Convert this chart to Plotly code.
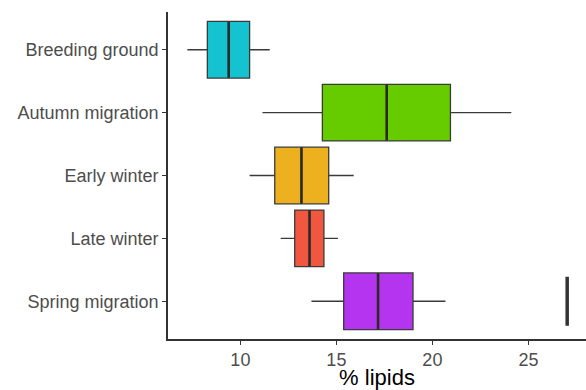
import plotly.graph_objects as go

categories = ["Breeding ground", "Autumn migration", "Early winter", "Late winter", "Spring migration"]
lower_whisker = [7.24, 11.15, 10.48, 12.10, 13.70]
q1_vals = [8.28, 14.27, 11.79, 12.83, 15.38]
median_vals = [9.39, 17.62, 13.18, 13.60, 17.17]
q3_vals = [10.48, 20.94, 14.60, 14.35, 18.99]
upper_whisker = [11.53, 24.11, 15.90, 15.08, 20.68]
outlier_cat = ["Spring migration"]
outlier_val = [27.02]
x_ticks = [10, 15, 20, 25]

fills = ["#14C3CF", "#66CC00", "#EDB120", "#F0573E", "#B534F0"]
FONT = "Liberation Sans, Arial, sans-serif"

fig = go.Figure()
for i, c in enumerate(categories):
    fig.add_trace(go.Box(
        y=[c], q1=[q1_vals[i]], median=[median_vals[i]], q3=[q3_vals[i]],
        lowerfence=[lower_whisker[i]], upperfence=[upper_whisker[i]],
        orientation="h", fillcolor=fills[i], width=0.9, whiskerwidth=0,
        line=dict(color="#3a3a3a", width=1.3), boxpoints=False,
        showlegend=False, hoverinfo="skip",
    ))

# thicker median lines (line-ns length is 1.4 x size)
fig.add_trace(go.Scatter(
    x=median_vals, y=categories, mode="markers",
    marker=dict(symbol="line-ns", size=40, line=dict(color="#2a2a2a", width=2.6)),
    showlegend=False, hoverinfo="skip",
))
# outlier
fig.add_trace(go.Scatter(
    x=outlier_val, y=outlier_cat, mode="markers",
    marker=dict(symbol="line-ns", size=35, line=dict(color="#333333", width=3.5)),
    showlegend=False, hoverinfo="skip",
))

fig.update_layout(
    width=586, height=390,
    margin=dict(l=168, r=0, t=12, b=51),
    paper_bgcolor="white", plot_bgcolor="white",
    boxmode="overlay",
    font=dict(family=FONT, size=18, color="#4D4D4D"),
)
fig.update_xaxes(
    range=[6.23, 28.0], tickvals=x_ticks, showgrid=False, zeroline=False,
    showline=True, linecolor="#333333", linewidth=1.6, automargin=False,
    ticks="outside", ticklen=4, tickwidth=1.3, tickcolor="#333333",
    tickfont=dict(size=18, color="#4D4D4D", family=FONT),
    title=dict(text="% lipids", font=dict(size=22, color="#000000", family=FONT), standoff=6),
)
fig.update_yaxes(
    type="category", categoryorder="array", categoryarray=categories,
    range=[4.6, -0.6], showgrid=False, zeroline=False, automargin=False,
    showline=True, linecolor="#333333", linewidth=1.6,
    ticks="outside", ticklen=4, tickwidth=1.3, tickcolor="#333333",
    tickfont=dict(size=18, color="#4D4D4D", family=FONT),
)

fig.write_html("out.html", config={"displayModeBar": False},
               post_script="document.body.style.margin='0';")
